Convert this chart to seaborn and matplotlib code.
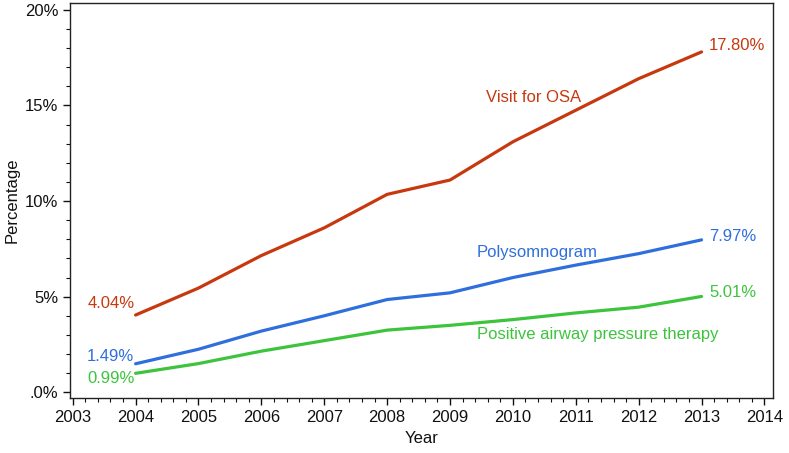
import matplotlib.pyplot as plt
import numpy as np
import pandas as pd
import seaborn as sns
from matplotlib.ticker import MultipleLocator, FuncFormatter

# Data
years = [2004, 2005, 2006, 2007, 2008, 2009, 2010, 2011, 2012, 2013]
visit_osa = [4.04, 5.45, 7.15, 8.6, 10.35, 11.1, 13.1, 14.75, 16.4, 17.80]
polysomnogram = [1.49, 2.25, 3.2, 4.0, 4.85, 5.2, 6.0, 6.65, 7.25, 7.97]
pap_therapy = [0.99, 1.5, 2.15, 2.7, 3.25, 3.5, 3.8, 4.15, 4.45, 5.01]

series_names = ["Visit for OSA", "Polysomnogram", "Positive airway pressure therapy"]
series_colors = ["#c8380f", "#2f6fdc", "#3cc43c"]

df = pd.DataFrame({
    "Year": years * 3,
    "Percentage": visit_osa + polysomnogram + pap_therapy,
    "Series": [series_names[0]] * 10 + [series_names[1]] * 10 + [series_names[2]] * 10,
})

sns.set_style("ticks")
plt.rcParams["font.family"] = ["Liberation Sans", "DejaVu Sans"]
fs = 12

fig, ax = plt.subplots(figsize=(7.89, 4.53), dpi=100)
fig.subplots_adjust(left=0.089, right=0.98, top=0.993, bottom=0.121)

sns.lineplot(
    data=df, x="Year", y="Percentage", hue="Series",
    palette=dict(zip(series_names, series_colors)),
    linewidth=2.3, legend=False, ax=ax,
)

ax.set_xlim(2002.96, 2014.14)
ax.set_ylim(-0.31, 20.35)
ax.xaxis.set_major_locator(MultipleLocator(1))
ax.xaxis.set_minor_locator(MultipleLocator(0.2))
ax.yaxis.set_major_locator(MultipleLocator(5))
ax.yaxis.set_minor_locator(MultipleLocator(1))
ax.yaxis.set_major_formatter(FuncFormatter(lambda v, p: ".0%" if v == 0 else f"{v:.0f}%"))
ax.tick_params(which="major", length=5, width=1, labelsize=fs, color="#111111", labelcolor="#111111")
ax.tick_params(which="minor", length=3, width=0.8, color="#111111")
for s in ax.spines.values():
    s.set_visible(True)
    s.set_linewidth(1)
    s.set_color("#222222")

ax.set_xlabel("Year", fontsize=fs, color="#111111")
ax.set_ylabel("Percentage", fontsize=fs, color="#111111")

# series names
ax.text(2009.58, 15.4, series_names[0], color=series_colors[0], fontsize=fs, va="center")
ax.text(2009.42, 7.33, series_names[1], color=series_colors[1], fontsize=fs, va="center")
ax.text(2009.43, 3.0, series_names[2], color=series_colors[2], fontsize=fs, va="center")

# start and end values
starts = [visit_osa[0], polysomnogram[0], pap_therapy[0]]
ends = [visit_osa[-1], polysomnogram[-1], pap_therapy[-1]]
start_offsets = [0.62, 0.39, -0.26]
end_offsets = [0.32, 0.2, 0.2]
for i in range(3):
    ax.text(years[0] - 0.02, starts[i] + start_offsets[i], f"{starts[i]:.2f}%",
            color=series_colors[i], fontsize=fs, ha="right", va="center")
    ax.text(years[-1] + 0.12, ends[i] + end_offsets[i], f"{ends[i]:.2f}%",
            color=series_colors[i], fontsize=fs, ha="left", va="center")

fig.savefig("out.png", dpi=100)
